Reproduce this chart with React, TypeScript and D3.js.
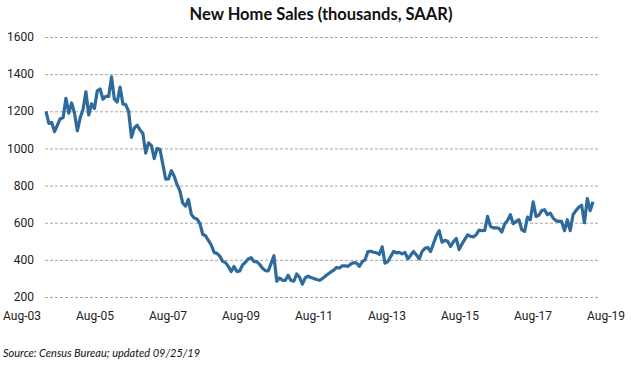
import { useEffect, useRef } from "react";
import * as d3 from "d3";

// New home sales, thousands SAAR, monthly from Aug-03 to Aug-19
const sales = [
  1200, 1135, 1140, 1090, 1125, 1160, 1165, 1270, 1190, 1245, 1190, 1095,
  1165, 1210, 1305, 1180, 1240, 1215, 1310, 1320, 1265, 1280, 1280, 1385,
  1265, 1250, 1330, 1240, 1235, 1200, 1060, 1110, 1125, 1100, 1080, 975,
  1030, 1015, 945, 1000, 995, 915, 835, 836, 880, 850, 805, 772,
  705, 690, 725, 645, 625, 620, 597, 538, 530, 505, 480, 440,
  435, 420, 392, 385, 365, 337, 364, 337, 340, 373, 387, 405,
  412, 391, 391, 375, 355, 342, 340, 380, 422, 285, 303, 290,
  290, 317, 289, 285, 324, 306, 270, 303, 312, 305, 300, 294,
  290, 299, 312, 324, 335, 345, 359, 356, 368, 368, 365, 378,
  385, 383, 365, 390, 400, 445, 446, 441, 438, 430, 470, 382,
  391, 418, 445, 438, 440, 432, 440, 405, 425, 445, 427, 405,
  445, 462, 467, 445, 488, 530, 557, 495, 505, 500, 472, 497,
  515, 455, 485, 510, 535, 526, 524, 535, 560, 557, 558, 634,
  580, 572, 572, 570, 550, 593, 612, 643, 595, 607, 616, 562,
  553, 630, 616, 712, 634, 640, 665, 670, 643, 652, 625, 611,
  607, 607, 557, 616, 557, 643, 665, 683, 694, 600, 730, 665,
  713,
];

const xLabels = ["Aug-03", "Aug-05", "Aug-07", "Aug-09", "Aug-11", "Aug-13", "Aug-15", "Aug-17", "Aug-19"];
const yTicks = [200, 400, 600, 800, 1000, 1200, 1400, 1600];

const width = 642;
const height = 366;
const plot = { left: 45, right: 598, top: 37, bottom: 297 };

const drawChart = (svgEl: SVGSVGElement) => {
  const svg = d3.select(svgEl);
  svg.selectAll("*").remove();

  const x = d3.scaleLinear().domain([0, sales.length - 1]).range([46, 593]);
  const y = d3.scaleLinear().domain([200, 1600]).range([plot.bottom, plot.top]);
  const xLab = d3.scalePoint().domain(xLabels).range([22, 606]);

  // quadrillage
  svg.append("g")
    .selectAll("line")
    .data(yTicks)
    .join("line")
    .attr("x1", plot.left)
    .attr("x2", plot.right)
    .attr("y1", d => y(d) + 0.5)
    .attr("y2", d => y(d) + 0.5)
    .attr("stroke", "#a6a6a6")
    .attr("stroke-width", 1)
    .attr("stroke-dasharray", "3,2");

  svg.append("g")
    .attr("font-family", "Roboto, sans-serif")
    .attr("font-size", 12)
    .attr("fill", "#222")
    .attr("text-anchor", "end")
    .selectAll("text")
    .data(yTicks)
    .join("text")
    .attr("x", 34)
    .attr("y", d => y(d))
    .attr("dy", "0.35em")
    .text(d => d);

  svg.append("g")
    .attr("font-family", "Roboto, sans-serif")
    .attr("font-size", 12)
    .attr("fill", "#222")
    .attr("text-anchor", "middle")
    .selectAll("text")
    .data(xLabels)
    .join("text")
    .attr("x", d => xLab(d) ?? 0)
    .attr("y", 320)
    .text(d => d);

  const line = d3.line<number>()
    .x((_, i) => x(i))
    .y(d => y(d));

  svg.append("path")
    .datum(sales)
    .attr("d", line)
    .attr("fill", "none")
    .attr("stroke", "#2e6a9c")
    .attr("stroke-width", 3.2)
    .attr("stroke-linejoin", "round");

  svg.append("text")
    .attr("x", 321)
    .attr("y", 20)
    .attr("text-anchor", "middle")
    .attr("font-family", "Lato, sans-serif")
    .attr("font-weight", "bold")
    .attr("font-size", 16.5)
    .attr("fill", "#111")
    .text("New Home Sales (thousands, SAAR)");

  svg.append("text")
    .attr("x", 3)
    .attr("y", 357)
    .attr("font-family", "Lato, sans-serif")
    .attr("font-style", "italic")
    .attr("font-size", 11)
    .attr("fill", "#111")
    .text("Source: Census Bureau; updated 09/25/19");
};

export default function App() {
  const ref = useRef<SVGSVGElement>(null);
  useEffect(() => {
    if (ref.current) drawChart(ref.current);
  }, []);
  return (
    <svg
      ref={ref}
      width={width}
      height={height}
      style={{ position: "absolute", left: 0, top: 0, background: "#fff" }}
    />
  );
}
